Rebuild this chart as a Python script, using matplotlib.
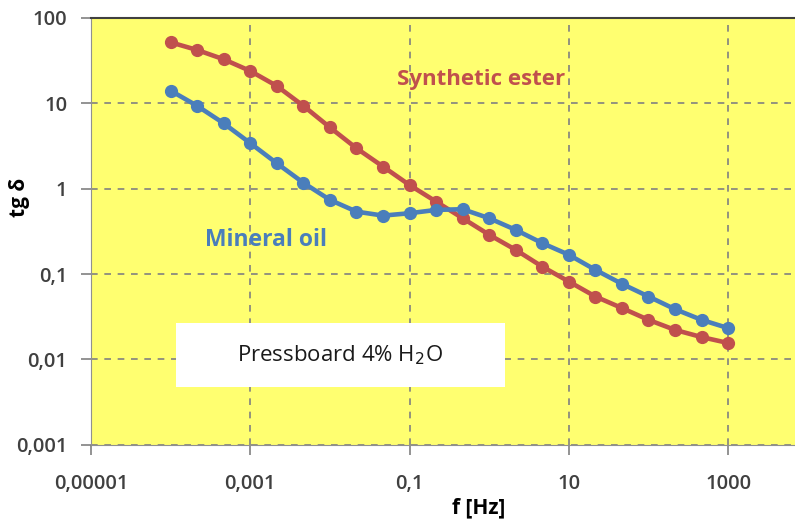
import matplotlib
matplotlib.use("Agg")
import matplotlib.pyplot as plt
from matplotlib.patches import Rectangle

# frequencies: 3 points per decade from 1e-4 to 1e3 Hz
freq = [1e-4, 2.15e-4, 4.64e-4, 1e-3, 2.15e-3, 4.64e-3, 1e-2, 2.15e-2, 4.64e-2,
        1e-1, 2.15e-1, 4.64e-1, 1, 2.15, 4.64, 10, 21.5, 46.4, 100, 215, 464, 1000]

ester = [51.5, 41.9, 32.6, 23.8, 15.9, 9.3, 5.2, 2.97, 1.81, 1.10, 0.705, 0.45,
         0.288, 0.192, 0.122, 0.0817, 0.0546, 0.040, 0.0291, 0.0222, 0.0183, 0.0156]

mineral = [14.0, 9.3, 5.8, 3.4, 1.98, 1.17, 0.738, 0.538, 0.483, 0.515, 0.563, 0.574,
           0.45, 0.329, 0.23, 0.168, 0.112, 0.0768, 0.0546, 0.0388, 0.0291, 0.0233]

xticks = [1e-5, 1e-3, 1e-1, 10, 1000]
xlabels = ["0,00001", "0,001", "0,1", "10", "1000"]
yticks = [0.001, 0.01, 0.1, 1, 10, 100]
ylabels = ["0,001", "0,01", "0,1", "1", "10", "100"]

red = "#C0504D"
blue = "#4A7EBB"

plt.rcParams['font.family'] = ['Open Sans', 'DejaVu Sans']

fig = plt.figure(figsize=(7.95, 5.21), dpi=100)
ax = fig.add_axes([0.1145, 0.146, 0.8855, 0.820])
ax.set_facecolor("#FFFF70")

ax.set_xscale("log")
ax.set_yscale("log")
ax.set_xlim(1e-5, 10 ** 3.84)
ax.set_ylim(0.001, 100)

ax.grid(True, which="major", color="#808080", linestyle=(0, (4, 4)), linewidth=1.2)
ax.minorticks_off()

ax.plot(freq, ester, color=red, lw=3.3, marker="o", ms=8.5, zorder=3)
ax.plot(freq, mineral, color=blue, lw=3.3, marker="o", ms=8.5, zorder=3)

ax.set_xticks(xticks)
ax.set_xticklabels(xlabels)
ax.set_yticks(yticks)
ax.set_yticklabels(ylabels)
ax.tick_params(axis="x", length=7, width=1.2, color="#808080", pad=14,
               labelsize=14.5, labelcolor="#404040")
ax.tick_params(axis="y", length=7, width=1.2, color="#808080", pad=10,
               labelsize=14.5, labelcolor="#404040")
for lab in ax.get_xticklabels() + ax.get_yticklabels():
    lab.set_fontweight("semibold")

ax.spines["top"].set_color("#404040")
ax.spines["top"].set_linewidth(1.5)
ax.spines["left"].set_color("#909090")
ax.spines["bottom"].set_color("#909090")
ax.spines["right"].set_visible(False)

ax.set_xlabel("f [Hz]", fontsize=15, fontweight="bold")
ax.xaxis.set_label_coords(0.55, -0.122)
ax.set_ylabel("tg δ", fontsize=15, fontweight="bold")
ax.yaxis.set_label_coords(-0.087, 0.58)

ax.text(0.0687, 18.7, "Synthetic ester", color=red, fontsize=16,
        fontweight="bold", va="center", ha="left")
ax.text(2.7e-4, 0.25, "Mineral oil", color=blue, fontsize=16.5,
        fontweight="bold", va="center", ha="left")

ax.add_patch(Rectangle((0.1207, 0.1357), 0.467, 0.1498, transform=ax.transAxes,
                       facecolor="white", edgecolor="none", zorder=4))
ax.text(0.1207 + 0.2335, 0.1357 + 0.075, "Pressboard 4% H$_2$O", transform=ax.transAxes,
        fontsize=16, ha="center", va="center", color="#1a1a1a", zorder=5)

fig.savefig("out.png", dpi=100)
